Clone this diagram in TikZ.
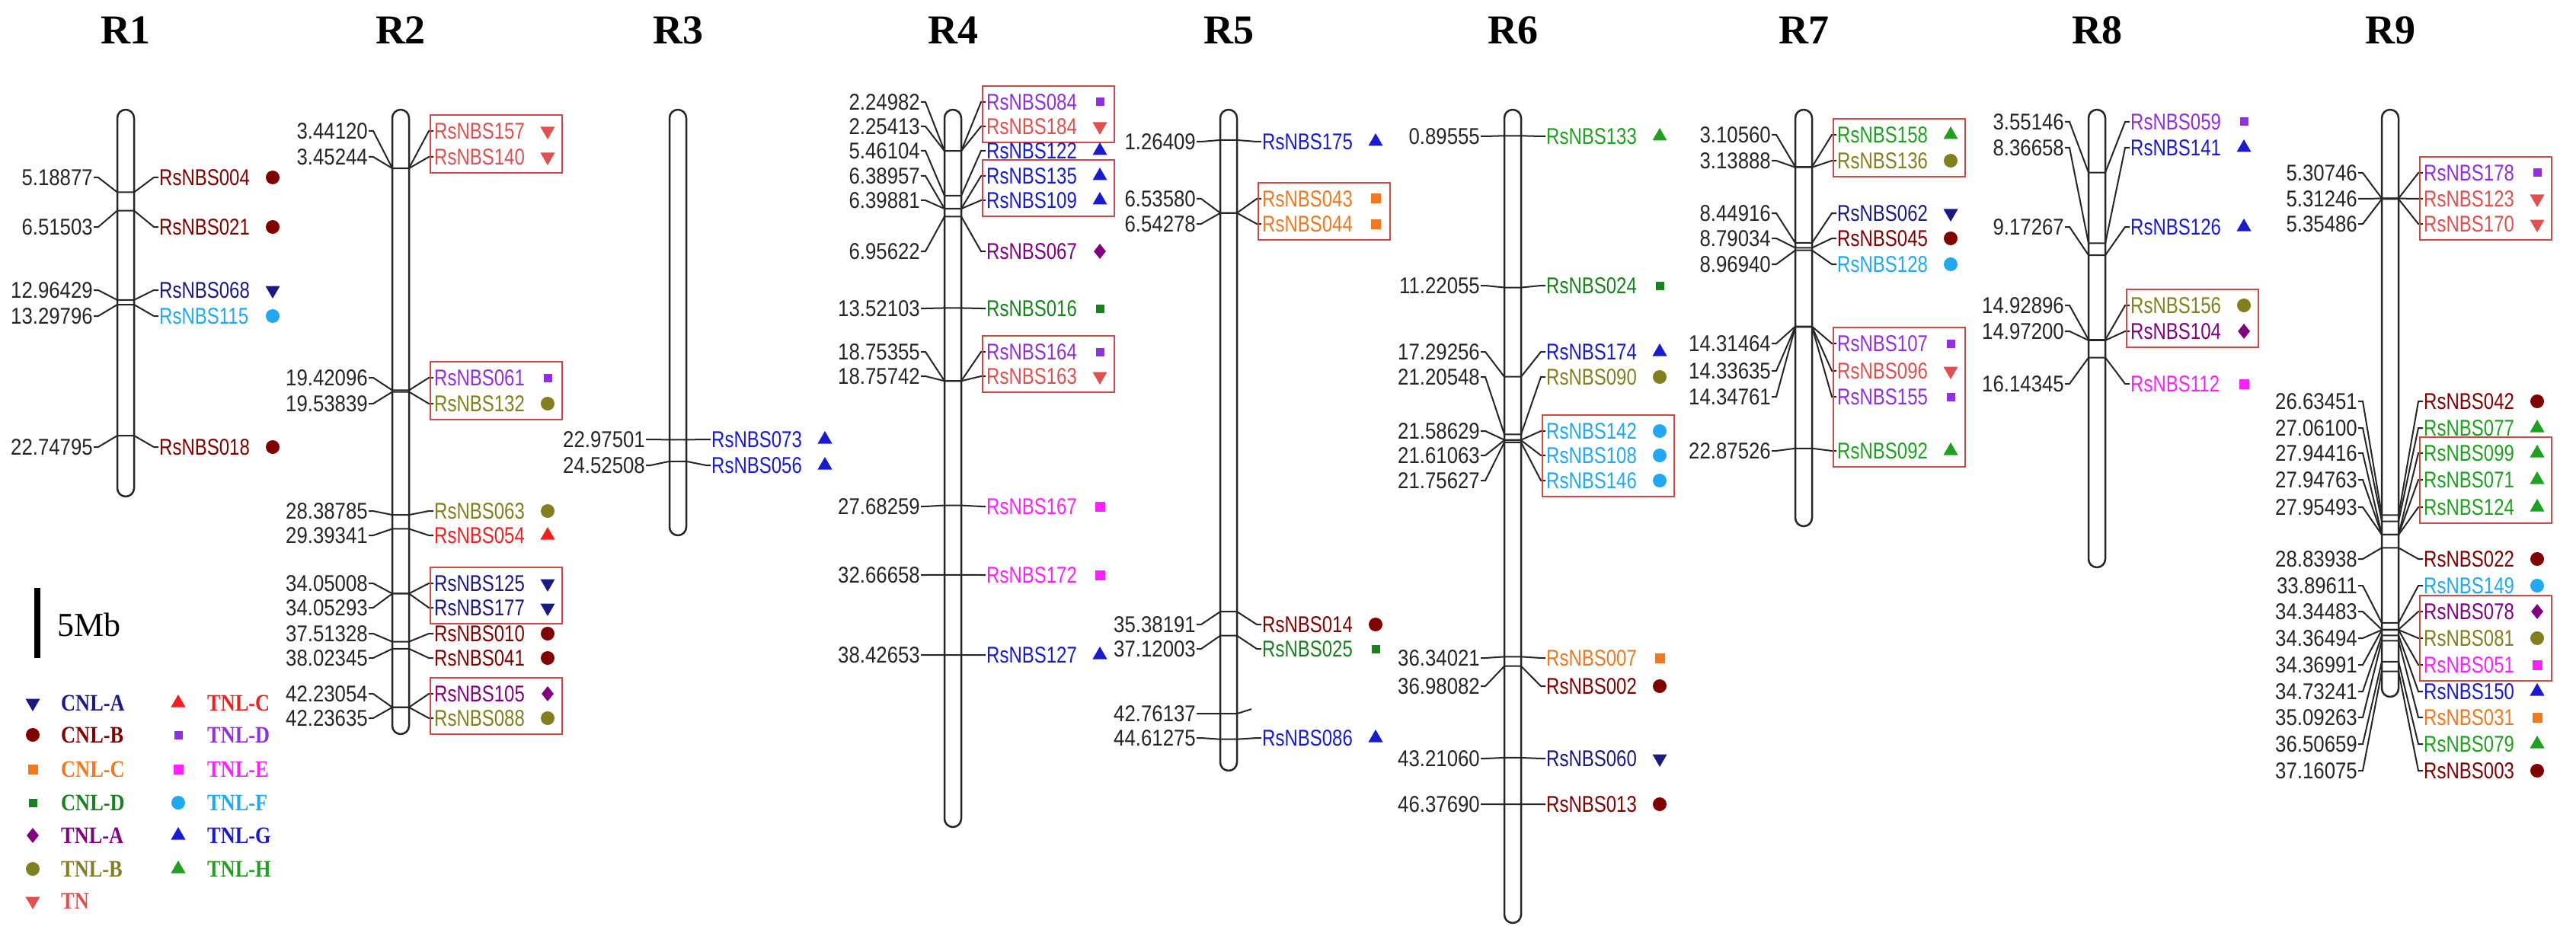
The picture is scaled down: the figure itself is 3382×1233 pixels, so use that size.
\documentclass[tikz,border=0pt]{standalone}
\usepackage{fontspec}
\usetikzlibrary{shapes.geometric}
\newfontfamily\labf{Liberation Sans}[FakeStretch=0.8]
\newfontfamily\numf{Liberation Sans}[FakeStretch=0.86]
\newfontfamily\serf{Liberation Serif}
\newfontfamily\legf{Liberation Serif}[FakeStretch=0.85]
\definecolor{cCA}{HTML}{1A1A80}
\definecolor{cCB}{HTML}{800000}
\definecolor{cCC}{HTML}{F07820}
\definecolor{cCD}{HTML}{1A8020}
\definecolor{cTA}{HTML}{800080}
\definecolor{cTB}{HTML}{808020}
\definecolor{cTN}{HTML}{E05050}
\definecolor{cTC}{HTML}{F02020}
\definecolor{cTD}{HTML}{9030E0}
\definecolor{cTE}{HTML}{FF20FF}
\definecolor{cTF}{HTML}{20A8F0}
\definecolor{cTG}{HTML}{1A1AD0}
\definecolor{cTH}{HTML}{20A020}
\definecolor{boxc}{HTML}{D04848}
\tikzset{
 num/.style={font=\numf\fontsize{30}{30}\selectfont,inner sep=1pt,anchor=east,text=black!85},
 lab/.style={font=\labf\fontsize{30}{30}\selectfont,inner sep=1pt,anchor=west},
 conn/.style={line width=2pt,black!85},
 chrom/.style={line width=2.5pt,black!85,fill=white,rounded corners=11pt},
 grp/.style={line width=2.5pt,boxc},
 title/.style={font=\serf\bfseries\fontsize{54}{54}\selectfont},
 leg/.style={font=\legf\bfseries\fontsize{31}{31}\selectfont,anchor=west,inner sep=0pt},
 dn/.style={regular polygon,regular polygon sides=3,shape border rotate=180,minimum size=22pt,inner sep=0pt},
 up/.style={regular polygon,regular polygon sides=3,minimum size=22pt,inner sep=0pt},
 ci/.style={circle,minimum size=18pt,inner sep=0pt},
 sqb/.style={rectangle,minimum size=13pt,inner sep=0pt},
 sqs/.style={rectangle,minimum size=11pt,inner sep=0pt},
 di/.style={diamond,minimum width=16pt,minimum height=20pt,inner sep=0pt},
 symCA/.style={dn,fill=cCA},
 symCB/.style={ci,fill=cCB},
 symCC/.style={sqb,fill=cCC},
 symCD/.style={sqs,fill=cCD},
 symTA/.style={di,fill=cTA},
 symTB/.style={ci,fill=cTB},
 symTN/.style={dn,fill=cTN},
 symTC/.style={up,fill=cTC},
 symTD/.style={sqs,fill=cTD},
 symTE/.style={sqb,fill=cTE},
 symTF/.style={ci,fill=cTF},
 symTG/.style={up,fill=cTG},
 symTH/.style={up,fill=cTH},
}
\newcommand\chr[6]{%
 \def\cx{#2}\def\cz{#3}\def\cs{#4}
 \node[title] (t#1) at (#2,40) {#6};
 \draw[chrom] ({#2-11},144) rectangle ({#2+11},#5);
}
\newcommand\g[4]{%
 \pgfmathsetmacro\ty{\cz+\cs*#1}
 \node[num] (n#3) at ({\cx-42},#2) {#1};
 \node[lab,text=c#4] (#3) at ({\cx+43},#2) {#3};
 \node[sym#4] (s#3) at ({\cx+193},#2) {};
 \draw[conn] (n#3.east) -- ++(6,0) -- ({\cx-11},\ty) -- ({\cx+11},\ty) -- ({\cx+37},#2) -- (#3.west);
}
\newcommand\gl[3]{%
 \pgfmathsetmacro\ty{\cz+\cs*#1}
 \node[num] (n#3) at ({\cx-42},#2) {#1};
 \coordinate (e#3) at ({\cx+30},\ty-6);
 \draw[conn] (n#3.east) -- ++(6,0) -- ({\cx-11},\ty) -- ({\cx+11},\ty) -- (e#3);
}
\newcommand\gb[2]{\draw[grp] ({\cx+39},{#1-21}) rectangle ({\cx+212},{#2+21});}
\begin{document}
\begin{tikzpicture}[x=1pt,y=-1pt]
\useasboundingbox[fill=white] (0,0) rectangle (3382,1233);
% R1
\chr{R1}{165}{158}{18.2}{652}{R1}
\g{5.18877}{233}{RsNBS004}{CB}
\g{6.51503}{298}{RsNBS021}{CB}
\g{12.96429}{381}{RsNBS068}{CA}
\g{13.29796}{415}{RsNBS115}{TF}
\g{22.74795}{587}{RsNBS018}{CB}
% R2
\chr{R2}{526}{158}{18.25}{964}{R2}
\g{3.44120}{172}{RsNBS157}{TN}
\g{3.45244}{206}{RsNBS140}{TN}
\gb{172}{206}
\g{19.42096}{496}{RsNBS061}{TD}
\g{19.53839}{530}{RsNBS132}{TB}
\gb{496}{530}
\g{28.38785}{671}{RsNBS063}{TB}
\g{29.39341}{703}{RsNBS054}{TC}
\g{34.05008}{766}{RsNBS125}{CA}
\g{34.05293}{798}{RsNBS177}{CA}
\gb{766}{798}
\g{37.51328}{832}{RsNBS010}{CB}
\g{38.02345}{864}{RsNBS041}{CB}
\g{42.23054}{911}{RsNBS105}{TA}
\g{42.23635}{943}{RsNBS088}{TB}
\gb{911}{943}
% R3
\chr{R3}{890}{157}{18.3}{703}{R3}
\g{22.97501}{577}{RsNBS073}{TG}
\g{24.52508}{611}{RsNBS056}{TG}
% R4
\chr{R4}{1251}{157}{18.3}{1086}{R4}
\g{2.24982}{134}{RsNBS084}{TD}
\g{2.25413}{166}{RsNBS184}{TN}
\gb{134}{166}
\g{5.46104}{198}{RsNBS122}{TG}
\g{6.38957}{231}{RsNBS135}{TG}
\g{6.39881}{263}{RsNBS109}{TG}
\gb{231}{263}
\g{6.95622}{330}{RsNBS067}{TA}
\g{13.52103}{405}{RsNBS016}{CD}
\g{18.75355}{462}{RsNBS164}{TD}
\g{18.75742}{494}{RsNBS163}{TN}
\gb{462}{494}
\g{27.68259}{665}{RsNBS167}{TE}
\g{32.66658}{755}{RsNBS172}{TE}
\g{38.42653}{860}{RsNBS127}{TG}
% R5
\chr{R5}{1613}{161}{18.15}{1012}{R5}
\g{1.26409}{186}{RsNBS175}{TG}
\g{6.53580}{261}{RsNBS043}{CC}
\g{6.54278}{294}{RsNBS044}{CC}
\gb{261}{294}
\g{35.38191}{820}{RsNBS014}{CB}
\g{37.12003}{852}{RsNBS025}{CD}
\gl{42.76137}{937}{x1}
\g{44.61275}{969}{RsNBS086}{TG}
% R6
\chr{R6}{1986}{161}{19.3}{1212}{R6}
\g{0.89555}{179}{RsNBS133}{TH}
\g{11.22055}{375}{RsNBS024}{CD}
\g{17.29256}{462}{RsNBS174}{TG}
\g{21.20548}{495}{RsNBS090}{TB}
\g{21.58629}{566}{RsNBS142}{TF}
\g{21.61063}{598}{RsNBS108}{TF}
\g{21.75627}{631}{RsNBS146}{TF}
\gb{566}{631}
\g{36.34021}{864}{RsNBS007}{CC}
\g{36.98082}{901}{RsNBS002}{CB}
\g{43.21060}{996}{RsNBS060}{CA}
\g{46.37690}{1056}{RsNBS013}{CB}
% R7
\chr{R7}{2368}{161}{18.7}{691}{R7}
\g{3.10560}{177}{RsNBS158}{TH}
\g{3.13888}{211}{RsNBS136}{TB}
\gb{177}{211}
\g{8.44916}{280}{RsNBS062}{CA}
\g{8.79034}{313}{RsNBS045}{CB}
\g{8.96940}{347}{RsNBS128}{TF}
\g{14.31464}{451}{RsNBS107}{TD}
\g{14.33635}{487}{RsNBS096}{TN}
\g{14.34761}{521}{RsNBS155}{TD}
\g{22.87526}{592}{RsNBS092}{TH}
\gb{451}{592}
% R8
\chr{R8}{2753}{158}{19.3}{745}{R8}
\g{3.55146}{160}{RsNBS059}{TD}
\g{8.36658}{194}{RsNBS141}{TG}
\g{9.17267}{298}{RsNBS126}{TG}
\g{14.92896}{401}{RsNBS156}{TB}
\g{14.97200}{435}{RsNBS104}{TA}
\gb{401}{435}
\g{16.14345}{504}{RsNBS112}{TE}
% R9
\chr{R9}{3138}{157}{19.5}{915}{R9}
\g{5.30746}{227}{RsNBS178}{TD}
\g{5.31246}{261}{RsNBS123}{TN}
\g{5.35486}{294}{RsNBS170}{TN}
\gb{227}{294}
\g{26.63451}{527}{RsNBS042}{CB}
\g{27.06100}{562}{RsNBS077}{TH}
\g{27.94416}{595}{RsNBS099}{TH}
\g{27.94763}{630}{RsNBS071}{TH}
\g{27.95493}{666}{RsNBS124}{TH}
\gb{595}{666}
\g{28.83938}{734}{RsNBS022}{CB}
\g{33.89611}{769}{RsNBS149}{TF}
\g{34.34483}{803}{RsNBS078}{TA}
\g{34.36494}{838}{RsNBS081}{TB}
\g{34.36991}{873}{RsNBS051}{TE}
\gb{803}{873}
\g{34.73241}{908}{RsNBS150}{TG}
\g{35.09263}{942}{RsNBS031}{CC}
\g{36.50659}{977}{RsNBS079}{TH}
\g{37.16075}{1012}{RsNBS003}{CB}
% scale bar
\draw[line width=8pt,black] (49,772) -- (49,864);
\node[font=\serf\fontsize{44}{44}\selectfont,anchor=west,inner sep=0pt] (mb) at (75,820) {5Mb};
% legend
\foreach \y/\a/\ta/\b/\tb [count=\i] in {923/CA/CNL-A/TC/TNL-C, 965/CB/CNL-B/TD/TNL-D, 1010/CC/CNL-C/TE/TNL-E, 1054/CD/CNL-D/TF/TNL-F, 1097/TA/TNL-A/TG/TNL-G, 1141/TB/TNL-B/TH/TNL-H}{
 \node[sym\a] (la\i) at (43,\y) {};
 \node[leg,text=c\a] (lt\i) at (80,\y) {\ta};
 \node[sym\b] (lb\i) at (234,\y) {};
 \node[leg,text=c\b] (lu\i) at (272,\y) {\tb};
}
\node[symTN] (lTN) at (43,1183) {};
\node[leg,text=cTN] (ltTN) at (80,1183) {TN};
\end{tikzpicture}
\end{document}
